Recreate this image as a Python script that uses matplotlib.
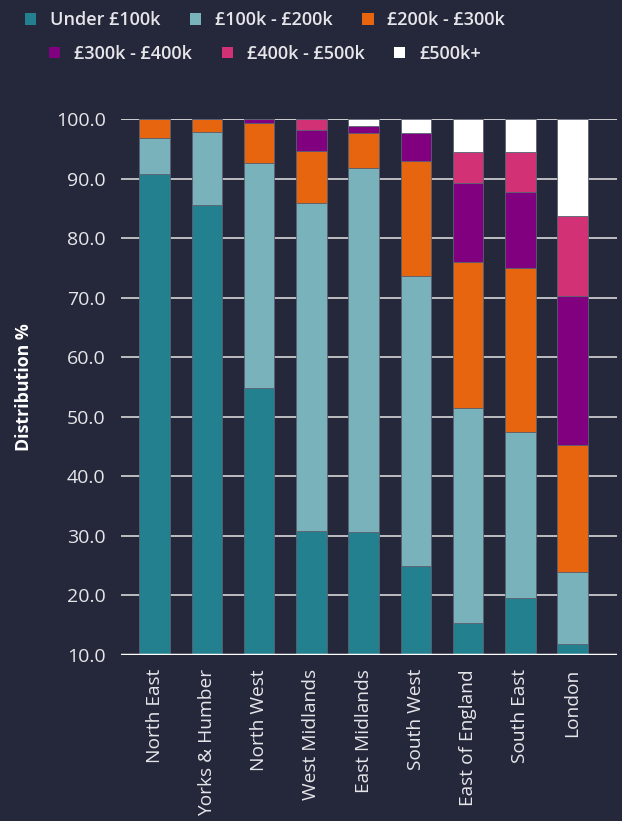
import matplotlib
matplotlib.use("Agg")
import matplotlib.pyplot as plt
from matplotlib.patches import Patch
import numpy as np

# 数据
regions = ["North East", "Yorks & Humber", "North West", "West Midlands", "East Midlands",
           "South West", "East of England", "South East", "London"]
bands = ["Under £100k", "£100k - £200k", "£200k - £300k", "£300k - £400k", "£400k - £500k", "£500k+"]

under_100k = [90.8, 85.6, 54.8, 30.8, 30.6, 25.0, 15.4, 19.5, 11.8]
k100_200 = [6.0, 12.2, 37.8, 55.1, 61.2, 48.7, 36.1, 27.9, 12.2]
k200_300 = [3.2, 2.2, 6.7, 8.7, 5.8, 19.3, 24.5, 27.6, 21.3]
k300_400 = [0.0, 0.0, 0.7, 3.6, 1.2, 4.6, 13.3, 12.8, 25.0]
k400_500 = [0.0, 0.0, 0.0, 1.8, 0.0, 0.0, 5.2, 6.7, 13.5]
k500_plus = [0.0, 0.0, 0.0, 0.0, 1.2, 2.4, 5.5, 5.5, 16.2]

yticks = [10, 20, 30, 40, 50, 60, 70, 80, 90, 100]

# 样式
BG = "#25283b"
COLORS = ["#23808f", "#7ab2bb", "#e8650f", "#81007f", "#d33176", "#ffffff"]
TEXT = "#e6e6ea"
plt.rcParams["font.family"] = ["Open Sans", "DejaVu Sans"]

fig = plt.figure(figsize=(6.22, 8.21), dpi=100, facecolor=BG)
ax = fig.add_axes([0.1945, 0.2022, 0.7975, 0.6528], facecolor=BG)

x = np.arange(len(regions))
series = [under_100k, k100_200, k200_300, k300_400, k400_500, k500_plus]
bottom = np.zeros(len(regions))
for vals, col in zip(series, COLORS):
    vals = np.array(vals)
    ax.bar(x, vals, bottom=bottom, width=0.585, color=col,
           edgecolor="#5b6172", linewidth=0.6, zorder=3)
    bottom += vals

ax.set_xlim(-0.645, 8.85)
ax.set_ylim(10, 100)
ax.set_yticks(yticks)
ax.set_yticklabels([f"{v:.1f}" for v in yticks], fontsize=14, color=TEXT)
ax.yaxis.grid(True, color="#c8c8cc", linewidth=1.3, zorder=0)
ax.axhline(100, color="white", linewidth=1.3, zorder=1)
ax.axhline(10, color="white", linewidth=2.5, zorder=4)
ax.tick_params(axis="y", length=0, pad=11)
ax.tick_params(axis="x", length=0, pad=10)
ax.set_xticks(x)
ax.set_xticklabels(regions, rotation=90, fontsize=13.8, color=TEXT, va="top", ha="center")
for s in ax.spines.values():
    s.set_visible(False)

ax.set_ylabel("Distribution %", fontsize=12.8, fontweight="bold", color="white")
ax.yaxis.set_label_coords(-0.178, 0.5)

# 图例：两行，各行独立居中
handles = [Patch(facecolor=c, edgecolor="none") for c in COLORS]
for row, y in enumerate([1.006, 0.965]):
    h = handles[row * 3:(row + 1) * 3]
    lab = bands[row * 3:(row + 1) * 3]
    leg = fig.legend(h, lab, loc="upper center", bbox_to_anchor=(0.426, y), ncol=3,
                     frameon=False, fontsize=13, handlelength=0.62, handleheight=0.62,
                     handletextpad=0.75, columnspacing=1.65)
    for t in leg.get_texts():
        t.set_color(TEXT)
        t.set_fontweight("semibold")

fig.savefig("out.png", dpi=100, facecolor=BG)
